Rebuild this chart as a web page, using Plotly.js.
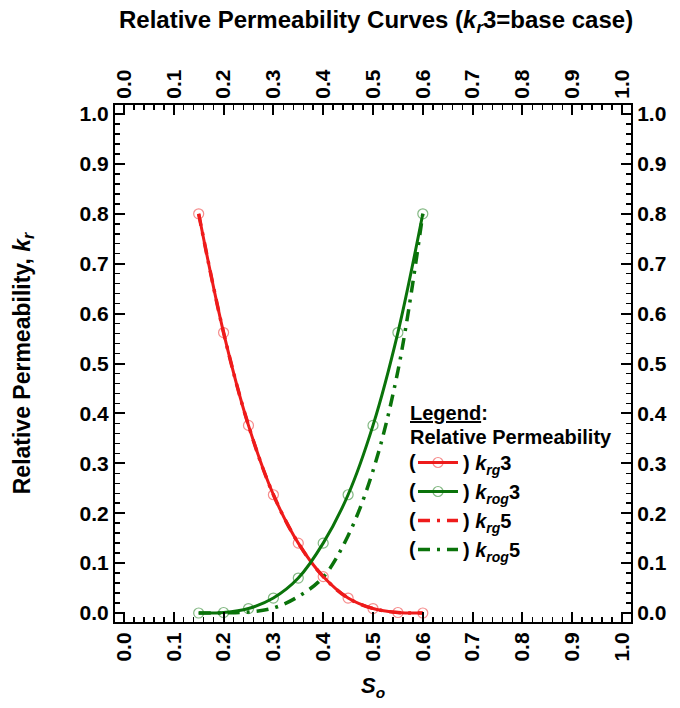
<!DOCTYPE html>
<html>
<head>
<meta charset="utf-8">
<script src="https://cdn.plot.ly/plotly-3.0.1.min.js"></script>
<style>html,body{margin:0;padding:0;background:#fff;}#chart{width:680px;height:708px;}</style>
</head>
<body>
<div id="chart"></div>
<script>
// Oil saturation values
const So = [0.15, 0.20, 0.25, 0.30, 0.35, 0.40, 0.45, 0.50, 0.55, 0.60];
// base case (exponent 3)
const krg3  = [0.800, 0.562, 0.376, 0.237, 0.140, 0.073, 0.030, 0.009, 0.001, 0.000];
const krog3 = [0.000, 0.001, 0.009, 0.030, 0.070, 0.140, 0.237, 0.376, 0.562, 0.800];
// case 5
const krg5  = [0.800, 0.562, 0.376, 0.237, 0.140, 0.073, 0.030, 0.009, 0.001, 0.000];
const krog5 = [0.000, 0.0002, 0.002, 0.010, 0.033, 0.072, 0.155, 0.285, 0.485, 0.800];
const tickVals = [0, 0.1, 0.2, 0.3, 0.4, 0.5, 0.6, 0.7, 0.8, 0.9, 1.0];
const tickText = ["0.0","0.1","0.2","0.3","0.4","0.5","0.6","0.7","0.8","0.9","1.0"];
const legendRows = [462, 491, 520, 549];

const RED = '#ee1b1b';
const GREEN = '#0a730a';
const FONT = 'Liberation Sans, Arial, sans-serif';
const dashDot = '12px,7px,3px,7px';

const traces = [
  {x: So, y: krg5, mode: 'lines', line: {color: RED, width: 3.5, dash: dashDot, shape: 'spline'},
   name: ') <i>k<sub>rg</sub></i>5', legendrank: 3},
  {x: So, y: krog5, mode: 'lines', line: {color: GREEN, width: 3.5, dash: dashDot, shape: 'spline'},
   name: ') <i>k<sub>rog</sub></i>5', legendrank: 4},
  {x: So, y: krg3, mode: 'lines+markers', line: {color: RED, width: 3, shape: 'spline'},
   marker: {symbol: 'circle-open', size: 10, color: 'rgba(238,27,27,0.5)', line: {width: 1.2}},
   name: ') <i>k<sub>rg</sub></i>3', legendrank: 1},
  {x: So, y: krog3, mode: 'lines+markers', line: {color: GREEN, width: 3, shape: 'spline'},
   marker: {symbol: 'circle-open', size: 10, color: 'rgba(10,115,10,0.5)', line: {width: 1.2}},
   name: ') <i>k<sub>rog</sub></i>3', legendrank: 2},
  {x: [], y: [], xaxis: 'x2', yaxis: 'y2', showlegend: false, hoverinfo: 'skip'}
];

const R = [-0.018, 1.018];
const tickFont = {family: FONT, size: 21, color: '#000', weight: 'bold'};
function ax(extra) {
  return Object.assign({
    range: R, tickvals: tickVals, ticktext: tickText, ticks: 'inside', ticklen: 10, tickwidth: 2,
    tickcolor: '#000', showline: true, linewidth: 2, linecolor: '#000', showgrid: false, zeroline: false,
    tickfont: tickFont,
    minor: {dtick: 0.02, tick0: 0, ticks: 'inside', ticklen: 5, tickwidth: 1.5, tickcolor: '#000', showgrid: false}
  }, extra);
}

const MT = 105, MB = 86, H = 708;
const plotH = H - MT - MB;
function py(pix) { return (H - MB - pix) / plotH; }
const legFont = {family: FONT, size: 20, color: '#000', weight: 'bold'};
const annotations = [
  {text: '<u>Legend</u>:', xref: 'paper', yref: 'paper', x: 0.567, y: py(413), xanchor: 'left', yanchor: 'middle',
   showarrow: false, font: legFont},
  {text: 'Relative Permeability', xref: 'paper', yref: 'paper', x: 0.567, y: py(437), xanchor: 'left', yanchor: 'middle',
   showarrow: false, font: legFont}
].concat(legendRows.map(r => ({text: '(', xref: 'paper', yref: 'paper', x: 0.566, y: py(r), xanchor: 'left',
   yanchor: 'middle', showarrow: false, font: legFont})));

const layout = {
  width: 680, height: H,
  margin: {l: 115, r: 49, t: MT, b: MB},
  paper_bgcolor: '#fff', plot_bgcolor: '#fff',
  font: {family: FONT, color: '#000'},
  showlegend: true,
  title: {text: '<b>Relative Permeability Curves (<i>k<sub>r</sub></i>3=base case)</b>',
          font: {family: FONT, size: 24, color: '#000'}, x: 0.553, xanchor: 'center', y: 0.972, yanchor: 'middle'},
  xaxis: ax({tickangle: -90, title: {text: '<b><i>S<sub>o</sub></i></b>', font: {family: FONT, size: 22}, standoff: 17}}),
  xaxis2: ax({tickangle: -90, overlaying: 'x', side: 'top', anchor: 'y'}),
  yaxis: ax({title: {text: '<b>Relative Permeability, <i>k<sub>r</sub></i></b>', font: {family: FONT, size: 23}, standoff: 43}}),
  yaxis2: ax({overlaying: 'y', side: 'right', anchor: 'x'}),
  legend: {
    x: 0.5775, y: py(443), xanchor: 'left', yanchor: 'top', bgcolor: 'rgba(0,0,0,0)',
    font: legFont, itemwidth: 40, traceorder: 'normal'
  },
  annotations: annotations
};

Plotly.newPlot('chart', traces, layout, {displayModeBar: false, staticPlot: true});
</script>
</body>
</html>
